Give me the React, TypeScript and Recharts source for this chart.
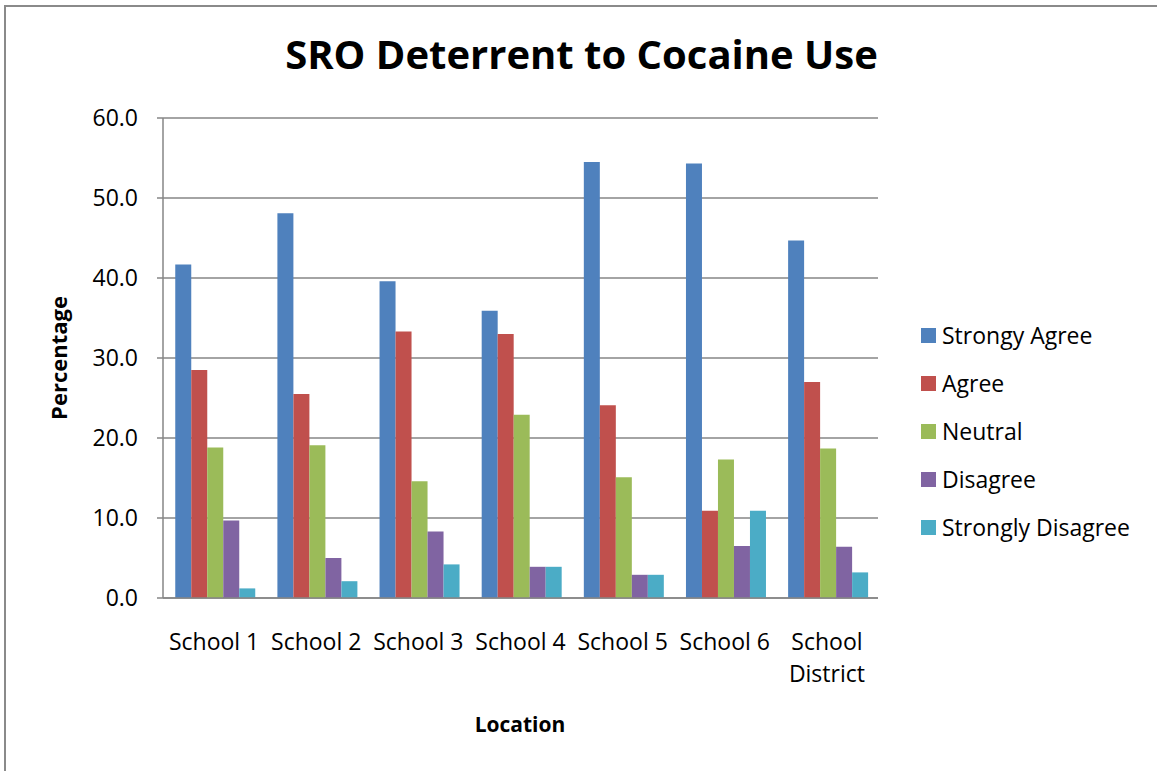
import React from 'react';
import { BarChart, Bar, XAxis, YAxis, CartesianGrid } from 'recharts';

const locations = ['School 1', 'School 2', 'School 3', 'School 4', 'School 5', 'School 6', 'School District'];
const stronglyAgree = [41.7, 48.1, 39.6, 35.9, 54.5, 54.3, 44.7];
const agree = [28.5, 25.5, 33.3, 33.0, 24.1, 10.9, 27.0];
const neutral = [18.8, 19.1, 14.6, 22.9, 15.1, 17.3, 18.7];
const disagree = [9.7, 5.0, 8.3, 3.9, 2.9, 6.5, 6.4];
const stronglyDisagree = [1.2, 2.1, 4.2, 3.9, 2.9, 10.9, 3.2];
const yTicks = [0, 10, 20, 30, 40, 50, 60];

const series = [
  { key: 'sa', name: 'Strongy Agree', color: '#4F81BD', values: stronglyAgree },
  { key: 'a', name: 'Agree', color: '#C0504D', values: agree },
  { key: 'n', name: 'Neutral', color: '#9BBB59', values: neutral },
  { key: 'd', name: 'Disagree', color: '#8064A2', values: disagree },
  { key: 'sd', name: 'Strongly Disagree', color: '#4BACC6', values: stronglyDisagree },
];

const data = locations.map((loc, i) => {
  const row: Record<string, string | number> = { location: loc };
  series.forEach((s) => (row[s.key] = s.values[i]));
  return row;
});

const FONT = '"Open Sans", sans-serif';
const GRID = '#868686';
const FRAME = '#8a8a8a';
const TEXT_SIZE = 23;

// long category names go on two lines, like the spreadsheet does
function LocationTick({ x, y, payload }: any) {
  const text: string = payload.value;
  const lines = text.length > 10 ? text.split(' ') : [text];
  return (
    <text x={x} y={y} textAnchor="middle" fontFamily={FONT} fontSize={TEXT_SIZE} fill="#000">
      {lines.map((l, i) => (
        <tspan key={i} x={x} dy={i === 0 ? 44 : 32}>
          {l}
        </tspan>
      ))}
    </text>
  );
}

export default function App() {
  return (
    <div style={{ position: 'fixed', left: 0, top: 0, width: 1157, height: 771, overflow: 'hidden', background: '#fff' }}>
      <div
        style={{
          position: 'absolute',
          left: 0,
          width: 1163,
          top: 26,
          textAlign: 'center',
          fontFamily: FONT,
          fontWeight: 700,
          fontSize: 40,
          color: '#000',
        }}
      >
        SRO Deterrent to Cocaine Use
      </div>
      <div
        style={{
          position: 'absolute',
          left: 58,
          top: 358,
          transform: 'translate(-50%, -50%) rotate(-90deg)',
          fontFamily: FONT,
          fontWeight: 700,
          fontSize: 22,
          whiteSpace: 'nowrap',
        }}
      >
        Percentage
      </div>
      <div
        style={{
          position: 'absolute',
          left: 520,
          top: 724,
          transform: 'translate(-50%, -50%)',
          fontFamily: FONT,
          fontWeight: 700,
          fontSize: 21,
        }}
      >
        Location
      </div>
      <div style={{ position: 'absolute', left: 921, top: 311 }}>
        {series.map((s) => (
          <div key={s.key} style={{ display: 'flex', alignItems: 'center', height: 48 }}>
            <div style={{ width: 15, height: 15, background: s.color, marginRight: 6 }} />
            <span style={{ fontFamily: FONT, fontSize: TEXT_SIZE, color: '#000' }}>{s.name}</span>
          </div>
        ))}
      </div>
      <div style={{ position: 'absolute', left: 0, top: 0 }}>
        <BarChart
          width={1157}
          height={771}
          data={data}
          margin={{ top: 118, right: 279, bottom: 0, left: 103 }}
          barCategoryGap="12%"
          barGap={0}
        >
          <CartesianGrid vertical={false} stroke={GRID} strokeWidth={1.5} />
          <XAxis
            dataKey="location"
            tick={<LocationTick />}
            tickLine={false}
            axisLine={{ stroke: GRID, strokeWidth: 1.5 }}
            interval={0}
            height={173}
          />
          <YAxis
            domain={[0, 60]}
            ticks={yTicks}
            width={60}
            tickSize={6}
            tickMargin={19}
            tickLine={{ stroke: GRID, strokeWidth: 1.5 }}
            axisLine={{ stroke: GRID, strokeWidth: 1.5 }}
            tickFormatter={(v: number) => v.toFixed(1)}
            tick={{ fontFamily: FONT, fontSize: TEXT_SIZE, fill: '#000' }}
          />
          {series.map((s) => (
            <Bar key={s.key} dataKey={s.key} name={s.name} fill={s.color} isAnimationActive={false} />
          ))}
        </BarChart>
      </div>
      {/* chart frame: only its left and top edges fall inside the page */}
      <div style={{ position: 'absolute', left: 4, top: 5, width: 2, height: 766, background: FRAME }} />
      <div style={{ position: 'absolute', left: 4, top: 5, width: 1153, height: 2, background: FRAME }} />
    </div>
  );
}
